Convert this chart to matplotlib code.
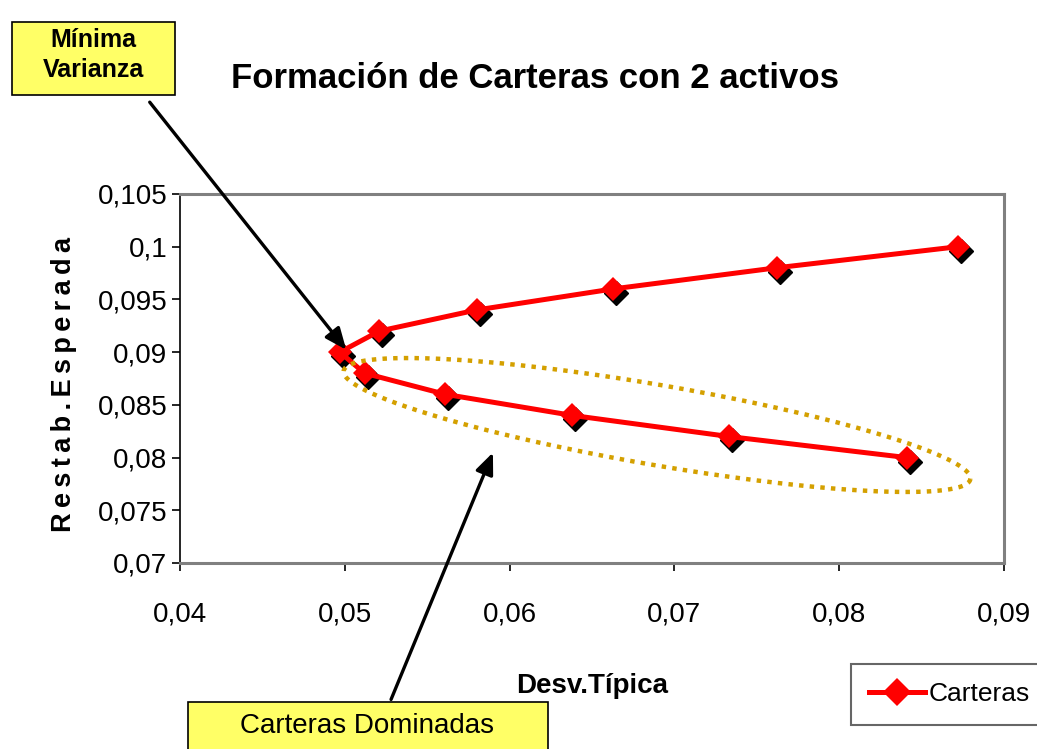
import numpy as np
import matplotlib
matplotlib.use("Agg")
import matplotlib.pyplot as plt
from matplotlib import transforms
from matplotlib.ticker import FuncFormatter, MultipleLocator
from matplotlib.patches import Rectangle, FancyArrowPatch
from matplotlib.lines import Line2D

# ---- data ----
desv_tipica = [0.0872, 0.0762, 0.0663, 0.0580, 0.0521, 0.0497, 0.0512, 0.0561, 0.0638, 0.0733, 0.0841]
rentab_esperada = [0.100, 0.098, 0.096, 0.094, 0.092, 0.090, 0.088, 0.086, 0.084, 0.082, 0.080]
series_name = "Carteras"
title = "Formación de Carteras con 2 activos"
xlabel = "Desv.Típica"
ylabel = "Restab.Esperada"
note_min = "Mínima\nVarianza"
note_dom = "Carteras Dominadas"

fam = ['Liberation Sans', 'DejaVu Sans']

W, H = 1037, 749
fig = plt.figure(figsize=(W / 100, H / 100), dpi=100)
fig.patch.set_facecolor('white')

def fx(px):
    return px / W

def fy(py):
    return 1 - py / H

ax = fig.add_axes([fx(180), fy(563), fx(1004) - fx(180), fy(194) - fy(563)])
ax.set_xlim(0.04, 0.09)
ax.set_ylim(0.07, 0.105)
ax.xaxis.set_major_locator(MultipleLocator(0.01))
ax.yaxis.set_major_locator(MultipleLocator(0.005))
fmt = FuncFormatter(lambda v, p: f"{v:g}".replace('.', ','))
ax.xaxis.set_major_formatter(fmt)
ax.yaxis.set_major_formatter(fmt)
ax.tick_params(axis='both', direction='out', length=6, width=1.2, color='black')
ax.tick_params(axis='y', pad=3)
ax.tick_params(axis='x', pad=22)
for lab in ax.get_xticklabels() + ax.get_yticklabels():
    lab.set_fontfamily(fam)
    lab.set_fontsize(20)
ax.spines['left'].set_color('black')
ax.spines['left'].set_linewidth(1.2)
for s in ['top', 'right', 'bottom']:
    ax.spines[s].set_color('#808080')
    ax.spines[s].set_linewidth(2.2)

# shadow markers
shadow = transforms.offset_copy(ax.transData, fig=fig, x=3, y=-4, units='dots')
ax.plot(desv_tipica, rentab_esperada, linestyle='none', marker='D', markersize=12,
        color='black', transform=shadow, zorder=3, clip_on=False)
ax.plot(desv_tipica, rentab_esperada, color='#FF0000', linewidth=3.6,
        marker='D', markersize=12, markeredgewidth=0, zorder=4, label=series_name, clip_on=False)

# titles and labels
fig.text(fx(535), fy(78), title, ha='center', va='center', fontsize=25,
         fontweight='bold', family=fam)
fig.text(fx(592), fy(686), xlabel, ha='center', va='center', fontsize=20,
         fontweight='bold', family=fam)
spaced = '\u2009'.join(ylabel)
fig.text(fx(64), fy(385), spaced, ha='center', va='center', rotation=90,
         fontsize=19.5, fontweight='bold', family=fam)

# dotted ellipse (annotation shape, in pixel space)
cx, cy, a, b, th = 657, 425, 318, 40, np.deg2rad(9.8)
t = np.linspace(0, 2 * np.pi, 400)
ex = cx + a * np.cos(t) * np.cos(th) - b * np.sin(t) * np.sin(th)
ey = cy + a * np.cos(t) * np.sin(th) + b * np.sin(t) * np.cos(th)
fig.add_artist(Line2D(fx(ex), fy(ey), transform=fig.transFigure, color='#D4A000',
                      linewidth=3.2, linestyle=(0, (1, 1.4)), dash_capstyle='butt', zorder=5))

# annotation boxes
yellow = '#FFFF66'
fig.add_artist(Rectangle((fx(12), fy(95)), fx(175) - fx(12), fy(22) - fy(95),
                         transform=fig.transFigure, facecolor=yellow, edgecolor='black', linewidth=1.2))
fig.text(fx(93.5), fy(55), note_min, ha='center', va='center', fontsize=18,
         fontweight='bold', family=fam, linespacing=1.35)
fig.add_artist(Rectangle((fx(188), fy(760)), fx(548) - fx(188), fy(702) - fy(760),
                         transform=fig.transFigure, facecolor=yellow, edgecolor='black', linewidth=1.2))
fig.text(fx(367), fy(726), note_dom, ha='center', va='center', fontsize=20,
         family=fam)

# arrows
for (x0, y0), (x1, y1) in [((148, 100), (348, 352)), ((390, 702), (494, 450))]:
    fig.add_artist(FancyArrowPatch((fx(x0), fy(y0)), (fx(x1), fy(y1)), transform=fig.transFigure,
                                   arrowstyle='-|>,head_length=13,head_width=5.5', mutation_scale=1,
                                   color='black', linewidth=2.4, zorder=6))

# legend
leg = fig.legend(loc='upper left', bbox_to_anchor=(fx(851), fy(664)), borderaxespad=0,
                 frameon=True, fancybox=False, edgecolor='#404040', handlelength=2.1,
                 handletextpad=0.15, borderpad=0.7, markerscale=1.15,
                 prop={'family': fam, 'size': 19})
leg.get_frame().set_linewidth(1.5)

fig.savefig('out.png', dpi=100, facecolor='white')
